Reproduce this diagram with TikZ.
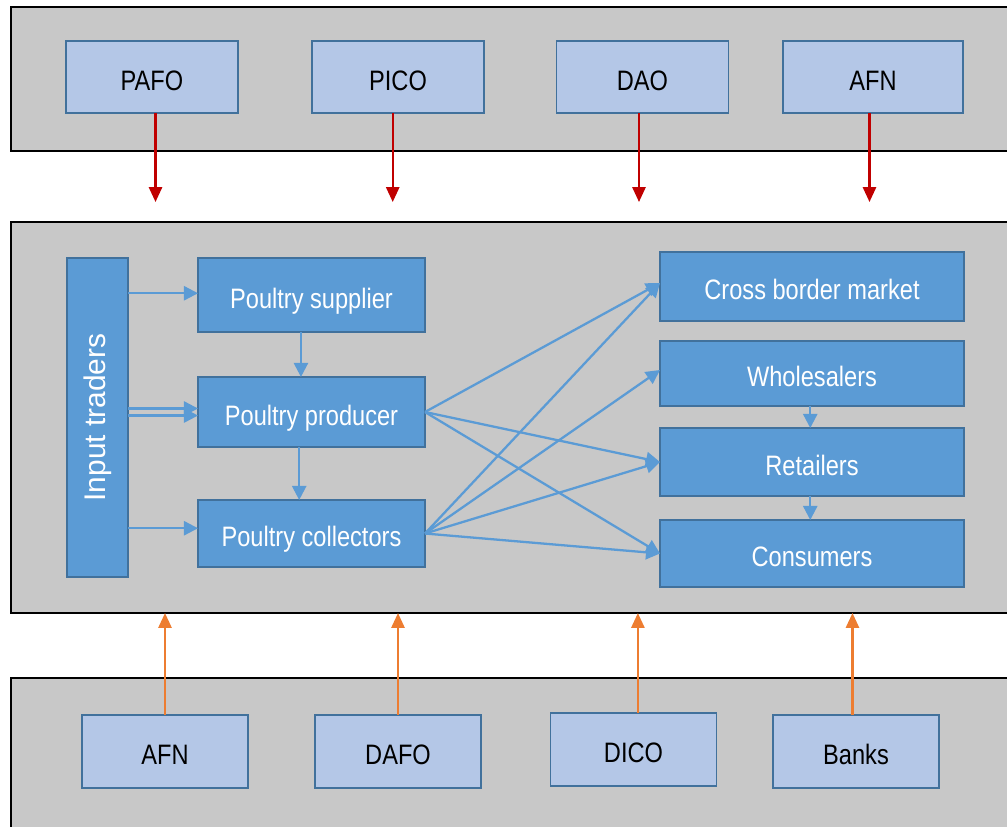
\documentclass[tikz,border=0pt]{standalone}
\usepackage{fontspec}
\setmainfont[FakeStretch=0.84]{Liberation Sans}
\newfontfamily\plainsans{Liberation Sans}
\usetikzlibrary{arrows.meta}
\definecolor{panelgray}{HTML}{C8C8C8}
\definecolor{lightblue}{HTML}{B4C7E7}
\definecolor{darkblue}{HTML}{5B9BD5}
\definecolor{boxedge}{HTML}{41719C}
\definecolor{govred}{HTML}{C00000}
\definecolor{supporange}{HTML}{ED7D31}
\begin{document}
\begin{tikzpicture}[x=0.02cm,y=-0.02cm,inner sep=0pt,outer sep=0pt,
panel/.style={draw=black,fill=panelgray,line width=1.2pt},
orgbox/.style={draw=boxedge,fill=lightblue,line width=0.9pt,minimum width=3.44cm,minimum height=1.44cm,text height=14.8pt,text depth=0pt,font=\fontsize{16}{19}\selectfont},
bankbox/.style={orgbox,minimum width=3.32cm,minimum height=1.46cm},
chainbox/.style={draw=boxedge,fill=darkblue,line width=0.9pt,text=white,minimum width=4.54cm,text height=14.8pt,text depth=0pt,font=\fontsize{16}{19}\selectfont},
marketbox/.style={chainbox,minimum width=6.08cm},
flow/.style={draw=darkblue,line width=1.3pt,-{Triangle[length=8pt,width=8pt]}},
govflow/.style={draw=govred,line width=1.3pt,-{Triangle[length=8.5pt,width=7.5pt]}},
suppflow/.style={draw=supporange,line width=1.3pt,-{Triangle[length=8.5pt,width=7.5pt]}}]
\useasboundingbox (0,0) rectangle (1007,826);
% panels
\draw[panel] (11,7) rectangle (1012,151);
\draw[panel] (11,222) rectangle (1012,613);
\draw[panel] (11,678) rectangle (1012,832);
% government offices
\draw (152,77) node[orgbox] (pafo) {PAFO};
\draw (398,77) node[orgbox] (pico) {PICO};
\draw (642.5,77) node[orgbox] (dao) {DAO};
\draw (873,77) node[orgbox,minimum width=3.6cm] (afntop) {AFN};
\draw[govflow] ([xshift=2pt]pafo.south) -- ++(0,89);
\draw[govflow] ([xshift=-3pt]pico.south) -- ++(0,89);
\draw[govflow] ([xshift=-2pt]dao.south) -- ++(0,89);
\draw[govflow] ([xshift=-2pt]afntop.south) -- ++(0,89);
% value chain
\draw (97.5,417.5) node[chainbox,minimum width=1.22cm,minimum height=6.38cm] (input) {};
\draw (input.center) node[rotate=90,text=white,font=\plainsans\fontsize{17}{20}\selectfont] {Input traders};
\draw (311.5,295) node[chainbox,minimum height=1.48cm] (supplier) {Poultry supplier};
\draw (311.5,412) node[chainbox,minimum height=1.4cm] (producer) {Poultry producer};
\draw (311.5,533.5) node[chainbox,minimum height=1.34cm] (collectors) {Poultry collectors};
\draw (812,286.5) node[marketbox,minimum height=1.38cm] (cross) {Cross border market};
\draw (812,373.5) node[marketbox,minimum height=1.3cm] (wholesale) {Wholesalers};
\draw (812,462) node[marketbox,minimum height=1.36cm] (retail) {Retailers};
\draw (812,553.5) node[marketbox,minimum height=1.34cm] (consumers) {Consumers};
\draw[flow] ([yshift=1pt]input.east |- supplier.west) -- ([yshift=1pt]supplier.west);
\draw[flow] ([yshift=2pt]input.east |- producer.west) -- ([yshift=2pt]producer.west);
\draw[flow] ([yshift=-2pt]input.east |- producer.west) -- ([yshift=-2pt]producer.west);
\draw[flow] ([yshift=3pt]input.east |- collectors.west) -- ([yshift=3pt]collectors.west);
\draw[flow] ([xshift=-6pt]supplier.south) -- ([xshift=-6pt]producer.north);
\draw[flow] ([xshift=-7pt]producer.south) -- ([xshift=-7pt]collectors.north);
\draw[flow] (producer.east) -- ([yshift=2pt]cross.west);
\draw[flow] (producer.east) -- (retail.west);
\draw[flow] (producer.east) -- (consumers.west);
\draw[flow] (collectors.east) -- ([yshift=2pt]cross.west);
\draw[flow] (collectors.east) -- ([yshift=2pt]wholesale.west);
\draw[flow] (collectors.east) -- (retail.west);
\draw[flow] (collectors.east) -- (consumers.west);
\draw[flow] ([xshift=-1pt]wholesale.south) -- ([xshift=-1pt]retail.north);
\draw[flow] ([xshift=-1pt]retail.south) -- ([xshift=-1pt]consumers.north);
% support services
\draw (165,751.5) node[bankbox] (afn) {AFN};
\draw (398,751.5) node[bankbox] (dafo) {DAFO};
\draw (633.5,749.5) node[bankbox] (dico) {DICO};
\draw (856,751.5) node[bankbox] (banks) {Banks};
\draw[suppflow] (afn.north) -- ++(0,-102);
\draw[suppflow] (dafo.north) -- ++(0,-102);
\draw[suppflow] ([xshift=2.5pt]dico.north) -- ++(0,-100);
\draw[suppflow] ([xshift=-2pt]banks.north) -- ++(0,-102);
\end{tikzpicture}
\end{document}
